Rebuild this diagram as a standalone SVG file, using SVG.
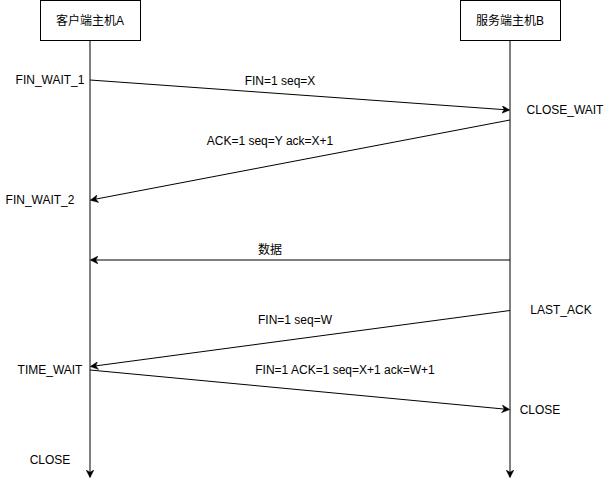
<svg xmlns="http://www.w3.org/2000/svg" width="611" height="489" viewBox="0 0 611 489">
<style>
text{font-family:"Liberation Sans","Noto Sans CJK SC",Arial,sans-serif;font-size:12px;fill:#000;}
.c{text-anchor:middle;dominant-baseline:central;}
.box{fill:#fff;stroke:#000;stroke-width:1;}
.ln{fill:none;stroke:#000;stroke-width:1;}
</style>
<defs>
<marker id="ah" viewBox="0 0 10 10" refX="9" refY="5" markerWidth="8" markerHeight="8" markerUnits="userSpaceOnUse" orient="auto">
<path d="M0,0 L10,5 L0,10 L3,5 Z" fill="#000" stroke="#000" stroke-width="0.5"/>
</marker>
</defs>
<rect width="611" height="489" fill="#fff"/>
<g id="connectors">
<path class="ln" d="M90,40 V477" marker-end="url(#ah)"/>
<path class="ln" d="M510,40 V477" marker-end="url(#ah)"/>
<path class="ln" d="M90,80 L509,110" marker-end="url(#ah)"/>
<path class="ln" d="M510,120 L91,200" marker-end="url(#ah)"/>
<path class="ln" d="M510,260 L91,260" marker-end="url(#ah)"/>
<path class="ln" d="M510,310.5 L91,366.5" marker-end="url(#ah)"/>
<path class="ln" d="M90,370 L509,409.5" marker-end="url(#ah)"/>
<text class="c" x="280" y="81">FIN=1 seq=X</text>
<text class="c" x="270" y="141">ACK=1 seq=Y ack=X+1</text>
<text class="c" x="270" y="250">数据</text>
<text class="c" x="295" y="320">FIN=1 seq=W</text>
<text class="c" x="345" y="370">FIN=1 ACK=1 seq=X+1 ack=W+1</text>
</g>
<g id="clientA">
<rect class="box" x="40.5" y="0.5" width="100" height="40"/>
<text class="c" x="90" y="21">客户端主机A</text>
</g>
<g id="serverB">
<rect class="box" x="460.5" y="0.5" width="100" height="40"/>
<text class="c" x="510" y="21">服务端主机B</text>
</g>
<g id="statesA">
<text class="c" x="50" y="80">FIN_WAIT_1</text>
<text class="c" x="40" y="200">FIN_WAIT_2</text>
<text class="c" x="50" y="370">TIME_WAIT</text>
<text class="c" x="50" y="460">CLOSE</text>
</g>
<g id="statesB">
<text class="c" x="565" y="110">CLOSE_WAIT</text>
<text class="c" x="561" y="310">LAST_ACK</text>
<text class="c" x="540" y="410">CLOSE</text>
</g>
</svg>
